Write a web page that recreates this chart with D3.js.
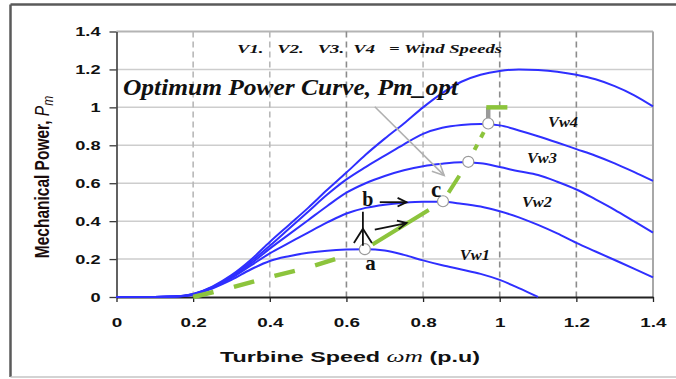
<!DOCTYPE html>
<html>
<head>
<meta charset="utf-8">
<script src="https://cdn.jsdelivr.net/npm/d3@7"></script>
<style>
  body { margin: 0; background: #fff; }
  svg { display: block; }
</style>
</head>
<body>
<div id="container"></div>
<script>
/* CONSTANTS AND GLOBALS */
const width = 676;
const height = 379;
const margin = { top: 31.5, right: 23, bottom: 82, left: 116.5 };

/* DATA */
// turbine speed (p.u) and mechanical power for each wind speed
const speed = [0, 0.1, 0.15, 0.2, 0.25, 0.3, 0.35, 0.4, 0.45, 0.5, 0.55, 0.6, 0.65, 0.7,
  0.75, 0.8, 0.85, 0.9, 0.95, 1.0, 1.05, 1.1, 1.15, 1.2, 1.25, 1.3, 1.35, 1.4];
const vw1 = [0, 0, 0.002, 0.012, 0.045, 0.09, 0.145, 0.19, 0.215, 0.233, 0.244, 0.25, 0.252, 0.245,
  0.222, 0.193, 0.167, 0.145, 0.122, 0.09, 0.047, 0, null, null, null, null, null, null];
const vw2 = [0, 0, 0.002, 0.013, 0.048, 0.1, 0.165, 0.23, 0.285, 0.34, 0.393, 0.44, 0.47, 0.487,
  0.497, 0.502, 0.502, 0.492, 0.477, 0.452, 0.42, 0.38, 0.335, 0.285, 0.24, 0.195, 0.15, 0.103];
const vw3 = [0, 0, 0.002, 0.014, 0.05, 0.105, 0.175, 0.255, 0.33, 0.405, 0.48, 0.55, 0.6, 0.638,
  0.668, 0.69, 0.703, 0.71, 0.705, 0.685, 0.663, 0.643, 0.608, 0.567, 0.515, 0.46, 0.4, 0.34];
const vw4 = [0, 0, 0.002, 0.015, 0.052, 0.11, 0.185, 0.27, 0.36, 0.45, 0.54, 0.62, 0.685, 0.745,
  0.805, 0.86, 0.892, 0.907, 0.912, 0.905, 0.878, 0.848, 0.815, 0.78, 0.745, 0.705, 0.66, 0.612];
const vw5 = [0, 0, 0.002, 0.016, 0.055, 0.115, 0.195, 0.29, 0.38, 0.47, 0.565, 0.656, 0.75, 0.835,
  0.915, 1.0, 1.075, 1.135, 1.172, 1.192, 1.2, 1.197, 1.188, 1.172, 1.148, 1.112, 1.065, 1.005];
const windSeries = [vw1, vw2, vw3, vw4, vw5];

// optimum power curve: dashed lower part, then the tracked points a, c, Vw3, Vw4
const optSpeed = [0.2, 0.3, 0.4, 0.5, 0.6];
const optPower = [0, 0.05, 0.105, 0.155, 0.218];
const trackSpeed = [0.648, 0.852, 0.918, 0.97];
const trackPower = [0.252, 0.505, 0.713, 0.915];
const ratedPower = 1.0;
const capSpeed = [0.965, 1.02];

const speedTicks = [0, 0.2, 0.4, 0.6, 0.8, 1, 1.2, 1.4];
const powerTicks = [0, 0.2, 0.4, 0.6, 0.8, 1, 1.2, 1.4];
const windLabels = ["Vw1", "Vw2", "Vw3", "Vw4"];

/* SCALES */
const xScale = d3.scaleLinear().domain([0, 1.4]).range([margin.left, width - margin.right]);
const yScale = d3.scaleLinear().domain([0, 1.4]).range([height - margin.bottom, margin.top]);

/* SVG */
const svg = d3.select("#container").append("svg")
  .attr("width", width)
  .attr("height", height);

// outer frame
svg.append("line").attr("x1", 10.5).attr("x2", width).attr("y1", 4.5).attr("y2", 4.5)
  .attr("stroke", "#5a5a5a").attr("stroke-width", 2.5);
svg.append("line").attr("x1", 10.5).attr("x2", 10.5).attr("y1", 4.5).attr("y2", 377)
  .attr("stroke", "#5a5a5a").attr("stroke-width", 2.5);
svg.append("line").attr("x1", 10.5).attr("x2", width).attr("y1", 377).attr("y2", 377)
  .attr("stroke", "#c4c4c4").attr("stroke-width", 1.5);

// horizontal grid
svg.append("g").selectAll("line")
  .data(powerTicks.filter(d => d > 0))
  .join("line")
  .attr("x1", xScale(0)).attr("x2", xScale(1.4))
  .attr("y1", d => yScale(d)).attr("y2", d => yScale(d))
  .attr("stroke", d => d === 1.4 ? "#b4b4b4" : "#cdcdcd")
  .attr("stroke-width", d => d === 1.4 ? 2 : 1.5);

// vertical dashed grid
svg.append("g").selectAll("line")
  .data(speedTicks.filter(d => d > 0 && d < 1.4))
  .join("line")
  .attr("x1", d => xScale(d)).attr("x2", d => xScale(d))
  .attr("y1", yScale(1.4)).attr("y2", yScale(0))
  .attr("stroke", d => (d === 0.2 || d === 0.4 || d === 0.8) ? "#b8b8b8" : "#8c8c8c")
  .attr("stroke-width", 1.6)
  .attr("stroke-dasharray", "6,4");

// right border
svg.append("line")
  .attr("x1", xScale(1.4)).attr("x2", xScale(1.4))
  .attr("y1", yScale(1.4)).attr("y2", yScale(0))
  .attr("stroke", "#a8a8a8").attr("stroke-width", 2);

/* AXES */
const fmt = d3.format("~g");
const yAxis = d3.axisLeft(yScale).tickValues(powerTicks).tickFormat(fmt).tickSizeInner(7).tickSizeOuter(0);
const gy = svg.append("g")
  .attr("transform", `translate(${xScale(0)},0)`)
  .call(yAxis)
  .attr("font-family", "'Liberation Sans', Arial, sans-serif")
  .attr("font-size", 13)
  .attr("font-weight", "bold");
gy.select(".domain").attr("stroke", "#3a3a3a").attr("stroke-width", 1.6);
gy.selectAll(".tick line").attr("stroke", "#3a3a3a").attr("stroke-width", 1.3);
gy.selectAll(".tick text").attr("x", 0).attr("fill", "#111")
  .attr("transform", "translate(-16,0) scale(1.4,1)");

const xAxis = d3.axisBottom(xScale).tickValues(speedTicks).tickFormat(fmt).tickSizeInner(5).tickSizeOuter(0);
const gx = svg.append("g")
  .attr("transform", `translate(0,${yScale(0)})`)
  .call(xAxis)
  .attr("font-family", "'Liberation Sans', Arial, sans-serif")
  .attr("font-size", 13.5)
  .attr("font-weight", "bold");
gx.select(".domain").attr("stroke", "#222").attr("stroke-width", 1.8);
gx.selectAll(".tick line").attr("stroke", "#222").attr("stroke-width", 1.3);
gx.selectAll(".tick text").attr("y", 0).attr("fill", "#111")
  .attr("transform", "translate(0,20) scale(1.4,1)");

// axis titles
const yTitle = svg.append("text")
  .attr("transform", "translate(49,177) scale(1.25,1) rotate(-90)")
  .attr("text-anchor", "middle")
  .attr("font-family", "'Liberation Sans', Arial, sans-serif")
  .attr("font-size", 15.5)
  .attr("font-weight", "bold")
  .attr("fill", "#1a0c0c");
yTitle.append("tspan").text("Mechanical Power, ");
yTitle.append("tspan").attr("font-style", "italic").attr("font-weight", "normal").text("P");
yTitle.append("tspan").attr("font-style", "italic").attr("font-weight", "normal")
  .attr("font-size", 12).attr("dy", 3).text("m");

const xTitle = svg.append("text")
  .attr("x", 350).attr("y", 362)
  .attr("text-anchor", "middle")
  .attr("textLength", 260)
  .attr("lengthAdjust", "spacingAndGlyphs")
  .attr("font-family", "'Liberation Sans', Arial, sans-serif")
  .attr("font-size", 15.5)
  .attr("font-weight", "bold")
  .attr("fill", "#111");
xTitle.append("tspan").text("Turbine Speed ");
xTitle.append("tspan").attr("font-family", "'Liberation Serif', serif").attr("font-style", "italic")
  .attr("font-weight", "normal").attr("font-size", 17).text("ωm");
xTitle.append("tspan").text("  (p.u)");

/* CURVES */
const line = d3.line()
  .defined(d => d[1] !== null)
  .x(d => xScale(d[0]))
  .y(d => yScale(d[1]))
  .curve(d3.curveMonotoneX);

svg.append("g").selectAll("path")
  .data(windSeries)
  .join("path")
  .attr("d", s => line(speed.map((x, i) => [x, s[i]])))
  .attr("fill", "none")
  .attr("stroke", "#2f2fff")
  .attr("stroke-width", 2);

/* OPTIMUM POWER CURVE */
const optColor = "#8cc43c";
const straight = d3.line().x(d => xScale(d[0])).y(d => yScale(d[1]));

svg.append("path")
  .attr("d", straight(optSpeed.map((x, i) => [x, optPower[i]])))
  .attr("fill", "none")
  .attr("stroke", optColor)
  .attr("stroke-width", 4.5)
  .attr("stroke-dasharray", "21,21");

svg.append("path")
  .attr("d", straight(trackSpeed.map((x, i) => [x, trackPower[i]])))
  .attr("fill", "none")
  .attr("stroke", optColor)
  .attr("stroke-width", 4)
  .attr("stroke-dasharray", "0,9,66,27,20,30,6,8,6,1000");

// limit at rated power
const last = trackSpeed.length - 1;
svg.append("line")
  .attr("x1", xScale(trackSpeed[last])).attr("x2", xScale(trackSpeed[last]))
  .attr("y1", yScale(trackPower[last])).attr("y2", yScale(ratedPower))
  .attr("stroke", "#9a9a9a").attr("stroke-width", 4.5);
svg.append("line")
  .attr("x1", xScale(capSpeed[0])).attr("x2", xScale(capSpeed[1]))
  .attr("y1", yScale(ratedPower)).attr("y2", yScale(ratedPower))
  .attr("stroke", optColor).attr("stroke-width", 4.5);

// markers
svg.append("g").selectAll("circle")
  .data(trackSpeed.map((x, i) => [x, trackPower[i]]))
  .join("circle")
  .attr("cx", d => xScale(d[0]))
  .attr("cy", d => yScale(d[1]))
  .attr("r", 5.5)
  .attr("fill", "#fff")
  .attr("stroke", "#9a9a9a")
  .attr("stroke-width", 1.2);

/* ARROWS */
function arrow(x1, y1, x2, y2, color, w, head) {
  const p1 = [xScale(x1), yScale(y1)];
  const p2 = [xScale(x2), yScale(y2)];
  const a = Math.atan2(p2[1] - p1[1], p2[0] - p1[0]);
  const g = svg.append("g").attr("stroke", color).attr("stroke-width", w).attr("fill", "none");
  g.append("line").attr("x1", p1[0]).attr("y1", p1[1]).attr("x2", p2[0]).attr("y2", p2[1]);
  g.append("path").attr("d",
    `M${p2[0] - head * Math.cos(a - 0.45)},${p2[1] - head * Math.sin(a - 0.45)}` +
    `L${p2[0]},${p2[1]}` +
    `L${p2[0] - head * Math.cos(a + 0.45)},${p2[1] - head * Math.sin(a + 0.45)}`);
}
arrow(0.674, 1.003, 0.855, 0.641, "#b0b0b0", 1.6, 13);
arrow(0.687, 0.5, 0.757, 0.5, "#111", 1.8, 10);
arrow(0.674, 0.355, 0.757, 0.39, "#111", 1.8, 10);

// vertical arrow at a
const ax = xScale(0.643);
svg.append("line").attr("x1", ax).attr("x2", ax)
  .attr("y1", yScale(0.27)).attr("y2", yScale(0.45))
  .attr("stroke", "#111").attr("stroke-width", 1.8);
svg.append("path")
  .attr("d", `M${ax - 9},${yScale(0.285)}L${ax},${yScale(0.36)}L${ax + 9},${yScale(0.285)}`)
  .attr("fill", "none").attr("stroke", "#111").attr("stroke-width", 1.8);

/* TEXT */
const serif = "'Liberation Serif', 'Times New Roman', serif";

svg.append("text")
  .attr("x", 237).attr("y", 53)
  .attr("textLength", 265)
  .attr("lengthAdjust", "spacingAndGlyphs")
  .style("white-space", "pre")
  .attr("font-family", serif).attr("font-size", 13)
  .attr("font-weight", "bold").attr("font-style", "italic")
  .attr("fill", "#111")
  .text("V1.   V2.   V3.  V4   = Wind Speeds");

svg.append("text")
  .attr("x", 123).attr("y", 95)
  .attr("textLength", 335)
  .attr("lengthAdjust", "spacingAndGlyphs")
  .attr("font-family", serif).attr("font-size", 24)
  .attr("font-weight", "bold").attr("font-style", "italic")
  .attr("fill", "#111")
  .text("Optimum Power Curve, Pm_opt");

const labelPos = [[0.896, 0.195], [1.058, 0.476], [1.071, 0.706], [1.126, 0.897]];
svg.append("g").selectAll("text")
  .data(windLabels)
  .join("text")
  .attr("x", (d, i) => xScale(labelPos[i][0]))
  .attr("y", (d, i) => yScale(labelPos[i][1]))
  .attr("textLength", 30)
  .attr("lengthAdjust", "spacingAndGlyphs")
  .attr("font-family", serif).attr("font-size", 15)
  .attr("font-weight", "bold").attr("font-style", "italic")
  .attr("fill", "#111")
  .text(d => d);

const pointLabels = [["a", 0.663, 0.14, 21], ["b", 0.656, 0.482, 20], ["c", 0.834, 0.525, 23]];
svg.append("g").selectAll("text")
  .data(pointLabels)
  .join("text")
  .attr("x", d => xScale(d[1]))
  .attr("y", d => yScale(d[2]))
  .attr("text-anchor", "middle")
  .attr("font-family", serif).attr("font-size", d => d[3])
  .attr("font-weight", "bold")
  .attr("fill", "#111")
  .text(d => d[0]);
</script>
</body>
</html>
